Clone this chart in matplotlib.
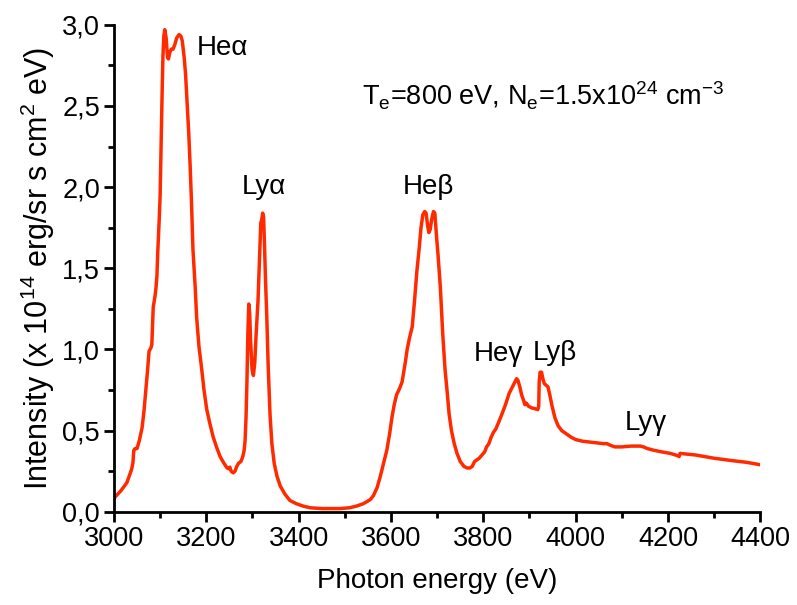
import matplotlib.pyplot as plt
from matplotlib.ticker import MultipleLocator, FuncFormatter

plt.rcParams['font.family'] = ['Liberation Sans', 'DejaVu Sans']
plt.rcParams['mathtext.fontset'] = 'custom'
plt.rcParams['mathtext.rm'] = 'Liberation Sans'

# spectrum (photon energy in eV, intensity in 1e14 erg/sr s cm^2 eV)
energy = [
    3000, 3002, 3015, 3028, 3038, 3041, 3043, 3046, 3050, 3055, 3061, 3065,
    3069, 3073, 3076, 3080, 3082, 3085, 3089, 3091, 3093, 3095, 3098, 3100,
    3102, 3104, 3106, 3108, 3110, 3113, 3116, 3118, 3121, 3124, 3128, 3132,
    3136, 3141, 3145, 3148, 3152, 3155, 3158, 3162, 3165, 3168, 3171, 3176,
    3179, 3184, 3190, 3195, 3201, 3208, 3215, 3222, 3230, 3238, 3245, 3249,
    3251, 3254, 3258, 3262, 3266, 3270, 3275, 3279, 3282, 3284, 3286, 3288,
    3290, 3292, 3294, 3296, 3299, 3302, 3305, 3308, 3312, 3315, 3318, 3320,
    3322, 3324, 3326, 3328, 3331, 3334, 3338, 3342, 3347, 3353, 3360, 3370,
    3381, 3395, 3410, 3425, 3450, 3470, 3490, 3510, 3525, 3540, 3555, 3562,
    3570, 3577, 3584, 3591, 3597, 3602, 3607, 3612, 3617, 3620, 3624, 3627,
    3631, 3635, 3640, 3646, 3651, 3656, 3661, 3665, 3669, 3673, 3676, 3679,
    3682, 3685, 3688, 3692, 3695, 3698, 3702, 3707, 3712, 3717, 3721, 3726,
    3731, 3737, 3743, 3750, 3758, 3765, 3771, 3776, 3781, 3786, 3791, 3797,
    3803, 3807, 3812, 3817, 3822, 3827, 3833, 3840, 3848, 3856, 3863, 3868,
    3872, 3875, 3879, 3883, 3888, 3890, 3893, 3898, 3905, 3912, 3918, 3920,
    3921, 3923, 3926, 3929, 3932, 3936, 3940, 3944, 3949, 3955, 3962, 3970,
    3980, 3990, 4000, 4015, 4030, 4045, 4060, 4068, 4075, 4085, 4100, 4120,
    4140, 4147, 4155, 4168, 4185, 4205, 4222, 4224, 4226, 4260, 4300, 4340,
    4370, 4400,
]
intensity = [
    0.08, 0.09, 0.13, 0.18, 0.26, 0.30, 0.38, 0.39, 0.39, 0.44, 0.52, 0.62,
    0.75, 0.88, 0.99, 1.01, 1.03, 1.26, 1.33, 1.38, 1.45, 1.61, 1.80, 1.95,
    2.25, 2.54, 2.80, 2.93, 2.97, 2.92, 2.80, 2.79, 2.83, 2.85, 2.85, 2.88,
    2.92, 2.94, 2.93, 2.90, 2.80, 2.70, 2.54, 2.33, 2.13, 1.90, 1.62, 1.38,
    1.20, 1.02, 0.88, 0.75, 0.63, 0.54, 0.46, 0.40, 0.34, 0.30, 0.27, 0.265,
    0.275, 0.25, 0.24, 0.25, 0.28, 0.30, 0.31, 0.34, 0.38, 0.44, 0.58, 0.80,
    1.10, 1.28, 1.22, 1.05, 0.88, 0.84, 0.92, 1.10, 1.30, 1.55, 1.78, 1.80,
    1.84, 1.82, 1.65, 1.45, 1.20, 0.90, 0.60, 0.42, 0.30, 0.22, 0.16, 0.11,
    0.07, 0.05, 0.035, 0.025, 0.02, 0.02, 0.02, 0.025, 0.035, 0.05, 0.075, 0.10,
    0.15, 0.22, 0.30, 0.38, 0.48, 0.58, 0.66, 0.72, 0.75, 0.77, 0.80, 0.85,
    0.92, 1.00, 1.07, 1.14, 1.30, 1.48, 1.62, 1.75, 1.83, 1.85, 1.84, 1.77,
    1.72, 1.74, 1.80, 1.85, 1.84, 1.72, 1.58, 1.38, 1.10, 0.88, 0.76, 0.60,
    0.50, 0.42, 0.36, 0.31, 0.28, 0.27, 0.27, 0.28, 0.31, 0.32, 0.33, 0.35,
    0.37, 0.40, 0.42, 0.46, 0.49, 0.51, 0.55, 0.60, 0.66, 0.73, 0.77, 0.80,
    0.82, 0.81, 0.77, 0.72, 0.68, 0.66, 0.67, 0.65, 0.64, 0.635, 0.63, 0.65,
    0.80, 0.86, 0.86, 0.82, 0.79, 0.78, 0.77, 0.72, 0.65, 0.58, 0.53, 0.50,
    0.48, 0.46, 0.445, 0.435, 0.43, 0.425, 0.42, 0.42, 0.41, 0.40, 0.40, 0.405,
    0.405, 0.40, 0.39, 0.38, 0.37, 0.36, 0.345, 0.34, 0.36, 0.35, 0.33, 0.315,
    0.305, 0.29,
]

# line labels and where they sit
line_names = ['He\u03b1', 'Ly\u03b1', 'He\u03b2', 'He\u03b3', 'Ly\u03b2', 'Ly\u03b3']
label_x = [3180, 3277, 3626, 3780, 3907, 4107]
label_y = [2.86, 2.00, 2.00, 0.97, 0.98, 0.55]

fig = plt.figure(figsize=(7.97, 6.05), dpi=100)
ax = fig.add_axes([0.143, 0.154, 0.811, 0.805])

ax.plot(energy, intensity, color='#ff2a00', lw=2.5)

for name, lx, ly in zip(line_names, label_x, label_y):
    ax.text(lx, ly, name, fontsize=20, va='center', ha='left')

ax.text(3537, 2.56,
        r'T$_\mathregular{e}$=800 eV, N$_\mathregular{e}$=1.5x10$^\mathregular{24}$ cm$^\mathregular{-3}$',
        fontsize=19.5, va='center', ha='left')

ax.set_xlim(3000, 4400)
ax.set_ylim(0, 3.0)
ax.xaxis.set_major_locator(MultipleLocator(200))
ax.xaxis.set_minor_locator(MultipleLocator(100))
ax.yaxis.set_major_locator(MultipleLocator(0.5))
ax.yaxis.set_minor_locator(MultipleLocator(0.25))
ax.yaxis.set_major_formatter(FuncFormatter(lambda v, p: f'{v:.1f}'.replace('.', ',')))

for side in ['top', 'right']:
    ax.spines[side].set_visible(False)
for side in ['left', 'bottom']:
    ax.spines[side].set_linewidth(2)

ax.tick_params(which='major', direction='out', length=7, width=2, labelsize=19.5, pad=3)
ax.tick_params(which='minor', direction='out', length=4, width=2)

ax.set_xlabel('Photon energy (eV)', fontsize=20, labelpad=12)
ax.set_ylabel(r'Intensity (x 10$^\mathregular{14}$ erg/sr s cm$^\mathregular{2}$ eV)', fontsize=22, labelpad=4)

fig.savefig('out.png', dpi=100)
